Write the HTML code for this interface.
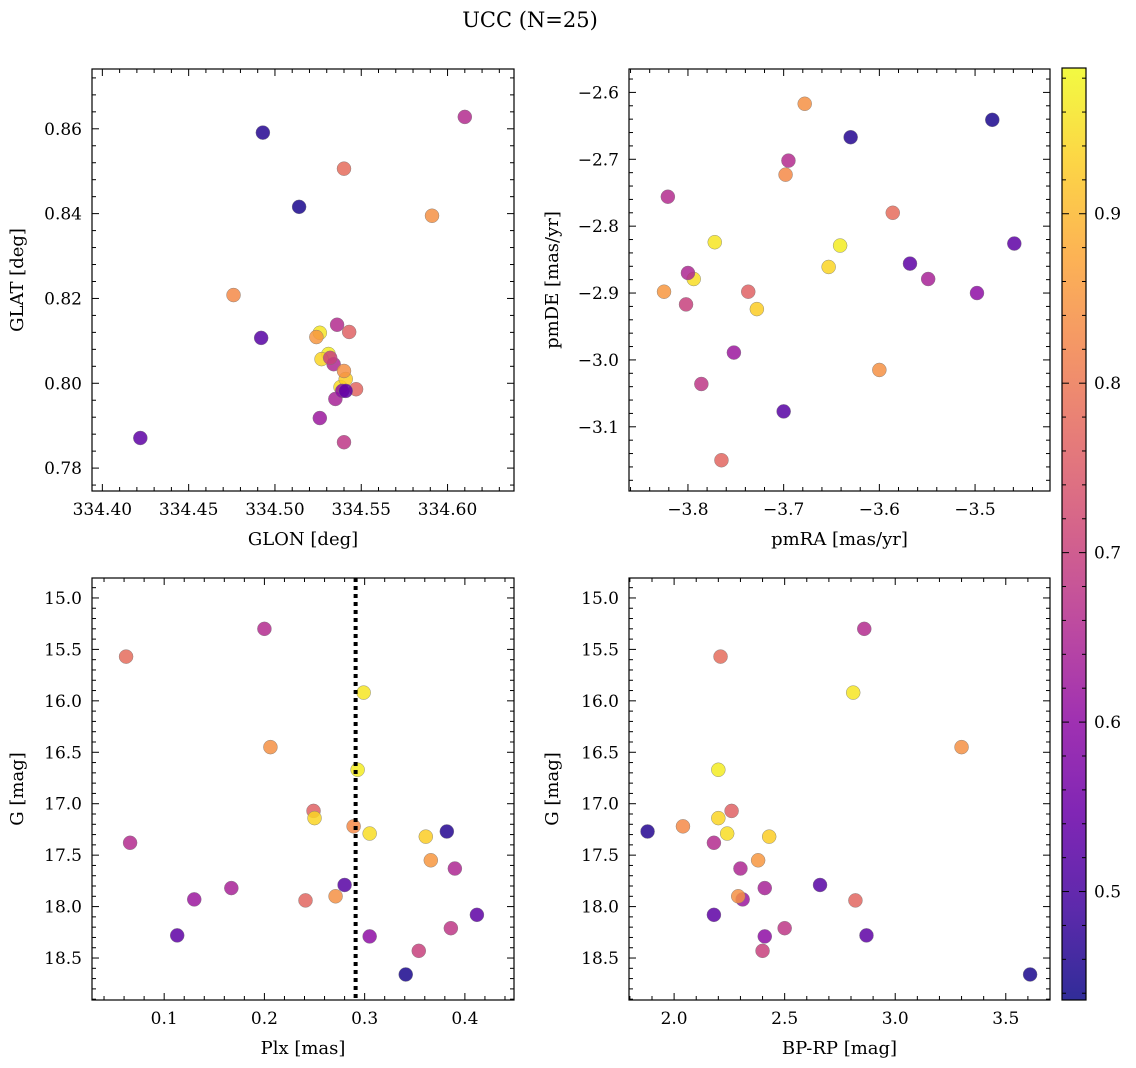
<!DOCTYPE html>
<html><head><meta charset="utf-8">
<style>
html,body{margin:0;padding:0;background:#fff;}
svg{display:block;font-family:"DejaVu Serif","Liberation Serif",serif;}
</style></head>
<body>
<svg id="fig" width="1136" height="1068" viewBox="0 0 1136 1068" xmlns="http://www.w3.org/2000/svg">
<rect width="1136" height="1068" fill="#fff"/>
<text x="530" y="27" font-size="21" text-anchor="middle">UCC (N=25)</text>
</svg>
<script>
const probs=[0.78,0.66,0.96,0.84,0.97,0.76,0.94,0.83,0.95,0.93,0.46,0.66,0.85,0.65,0.64,0.52,0.62,0.77,0.84,0.53,0.60,0.53,0.68,0.70,0.45];
const glon=[334.540,334.610,334.526,334.591,334.531,334.543,334.527,334.476,334.538,334.541,334.493,334.536,334.524,334.534,334.535,334.492,334.526,334.547,334.540,334.422,334.539,334.541,334.540,334.532,334.514];
const glat=[0.8506,0.8628,0.8119,0.8395,0.8069,0.8121,0.8057,0.8208,0.7991,0.8010,0.8591,0.8138,0.8109,0.8045,0.7963,0.8107,0.7918,0.7986,0.8029,0.7871,0.7982,0.7982,0.7861,0.8060,0.8416];
const pmra=[-3.586,-3.695,-3.772,-3.678,-3.641,-3.737,-3.653,-3.698,-3.794,-3.728,-3.630,-3.821,-3.825,-3.800,-3.549,-3.700,-3.752,-3.765,-3.600,-3.459,-3.498,-3.568,-3.786,-3.802,-3.482];
const pmde=[-2.780,-2.702,-2.824,-2.617,-2.829,-2.898,-2.861,-2.723,-2.879,-2.924,-2.667,-2.756,-2.898,-2.870,-2.879,-3.077,-2.989,-3.150,-3.015,-2.826,-2.900,-2.856,-3.036,-2.917,-2.641];
const plx=[0.062,0.200,0.299,0.206,0.293,0.249,0.250,0.289,0.305,0.361,0.382,0.066,0.366,0.390,0.167,0.280,0.130,0.241,0.271,0.113,0.305,0.412,0.386,0.354,0.341];
const gmag=[15.57,15.30,15.92,16.45,16.67,17.07,17.14,17.22,17.29,17.32,17.27,17.38,17.55,17.63,17.82,17.79,17.93,17.94,17.90,18.28,18.29,18.08,18.21,18.43,18.66];
const bprp=[2.21,2.86,2.81,3.30,2.20,2.26,2.20,2.04,2.24,2.43,1.88,2.18,2.38,2.30,2.41,2.66,2.31,2.82,2.29,2.87,2.41,2.18,2.50,2.40,3.61];
const plxLine=0.291;
const cbTicks=[0.5,0.6,0.7,0.8,0.9];

const NS="http://www.w3.org/2000/svg";
const svg=document.getElementById('fig');
const CMIN=0.436,CMAX=0.986;
const TF=17, LF=18;
const stops=[[13,8,135],[65,4,157],[106,0,168],[143,13,164],[177,42,144],[204,71,120],[225,100,98],[242,132,75],[252,166,54],[252,206,37],[240,249,33]];
function plasma(t){t=Math.max(0,Math.min(1,t));const f=t*10,i=Math.min(9,Math.floor(f)),r=f-i;const a=stops[i],b=stops[i+1];
 return 'rgb('+a.map((v,k)=>Math.round(v+(b[k]-v)*r)).join(',')+')';}
function colorOf(p){return plasma((p-CMIN)/(CMAX-CMIN));}
function el(tag,attrs,parent){const e=document.createElementNS(NS,tag);for(const k in attrs)e.setAttribute(k,attrs[k]);(parent||svg).appendChild(e);return e;}
function fmt(v,d){const s=Math.abs(v).toFixed(d);return (v<-1e-12?'\u2212':'')+s;}

function panel(o){
 const g=el('g',{});
 
 
 const sx=v=>o.x0+(v-o.xmin)/(o.xmax-o.xmin)*(o.x1-o.x0);
 const sy=v=>o.yinv? o.y0+(v-o.ymin)/(o.ymax-o.ymin)*(o.y1-o.y0) : o.y1-(v-o.ymin)/(o.ymax-o.ymin)*(o.y1-o.y0);
 const pts=el('g',{},g);
 
 
 if(o.vline!==undefined){
  const l=el('line',{x1:sx(o.vline),x2:sx(o.vline),y1:o.y0,y2:o.y1,stroke:'#000','stroke-width':4,'stroke-dasharray':'4,4'},g);
  
  
 }
 for(let i=0;i<o.xs.length;i++){
  const c=el('circle',{cx:sx(o.xs[i]),cy:sy(o.ys[i]),r:7,fill:colorOf(probs[i]),'fill-opacity':0.85,stroke:'#777','stroke-width':0.4},pts);
  
  
 }
 const fr=el('rect',{x:o.x0,y:o.y0,width:o.x1-o.x0,height:o.y1-o.y0,fill:'none',stroke:'#000','stroke-width':1.2},g);
 
 
 const xmaj=o.xmaj,xmin=o.xminor;
 for(let k=Math.ceil(o.xmin/xmin-1e-6);k*xmin<=o.xmax+1e-9;k++){
  const v=k*xmin,px=sx(v);const isMaj=Math.abs(v/xmaj-Math.round(v/xmaj))<1e-6;const L=isMaj?7:4;
  el('line',{x1:px,x2:px,y1:o.y1,y2:o.y1-L,stroke:'#000','stroke-width':1},g);
  el('line',{x1:px,x2:px,y1:o.y0,y2:o.y0+L,stroke:'#000','stroke-width':1},g);
  if(isMaj){const t=el('text',{x:px,y:o.y1+24,'font-size':TF,'text-anchor':'middle'},g);t.textContent=fmt(v,o.xd);
   
   }
 }
 const ymaj=o.ymaj,ymin=o.yminor;
 const lo=Math.min(o.ymin,o.ymax),hi=Math.max(o.ymin,o.ymax);
 for(let k=Math.ceil(lo/ymin-1e-6);k*ymin<=hi+1e-9;k++){
  const v=k*ymin,py=sy(v);const isMaj=Math.abs(v/ymaj-Math.round(v/ymaj))<1e-6;const L=isMaj?7:4;
  el('line',{x1:o.x0,x2:o.x0+L,y1:py,y2:py,stroke:'#000','stroke-width':1},g);
  el('line',{x1:o.x1,x2:o.x1-L,y1:py,y2:py,stroke:'#000','stroke-width':1},g);
  if(isMaj){const t=el('text',{x:o.x0-10,y:py+6,'font-size':TF,'text-anchor':'end'},g);t.textContent=fmt(v,o.yd);
   
   }
 }
 const xl=el('text',{x:(o.x0+o.x1)/2,y:o.y1+54,'font-size':LF,'text-anchor':'middle'},g);xl.textContent=o.xlabel;
 
 
 const yx=o.ylx,yy=(o.y0+o.y1)/2;
 const yl=el('text',{x:yx,y:yy,'font-size':LF,'text-anchor':'middle',transform:'rotate(-90 '+yx+' '+yy+')'},g);yl.textContent=o.ylabel;
 
 
}

panel({name:'glon-glat-panel',x0:92,x1:514,y0:69,y1:491,xmin:334.394,xmax:334.6385,ymin:0.7746,ymax:0.8741,xmaj:0.05,xminor:0.01,ymaj:0.02,yminor:0.004,xd:2,yd:2,xs:glon,ys:glat,xlabel:'GLON [deg]',ylabel:'GLAT [deg]',ylx:23});
panel({name:'pm-panel',x0:629,x1:1050,y0:69,y1:491,xmin:-3.8616,xmax:-3.4217,ymin:-3.196,ymax:-2.565,xmaj:0.1,xminor:0.02,ymaj:0.1,yminor:0.02,xd:1,yd:1,xs:pmra,ys:pmde,xlabel:'pmRA [mas/yr]',ylabel:'pmDE [mas/yr]',ylx:558});
panel({name:'plx-g-panel',x0:92,x1:514,y0:578,y1:1000,xmin:0.028,xmax:0.449,ymin:14.806,ymax:18.908,yinv:true,xmaj:0.1,xminor:0.02,ymaj:0.5,yminor:0.1,xd:1,yd:1,xs:plx,ys:gmag,xlabel:'Plx [mas]',ylabel:'G [mag]',ylx:23,vline:plxLine});
panel({name:'cmd-panel',x0:629,x1:1050,y0:578,y1:1000,xmin:1.796,xmax:3.70,ymin:14.806,ymax:18.908,yinv:true,xmaj:0.5,xminor:0.1,ymaj:0.5,yminor:0.1,xd:1,yd:1,xs:bprp,ys:gmag,xlabel:'BP-RP [mag]',ylabel:'G [mag]',ylx:558});

const cb=el('g',{});


const CX0=1062,CX1=1086,CY0=68,CY1=1000;
const defs=el('defs',{},cb);
const lg=el('linearGradient',{id:'cbg',x1:0,y1:1,x2:0,y2:0},defs);
for(let i=0;i<=20;i++){el('stop',{offset:(i/20),'stop-color':plasma(i/20)},lg);}
el('rect',{x:CX0,y:CY0,width:CX1-CX0,height:CY1-CY0,fill:'url(#cbg)','fill-opacity':0.85},cb);
el('rect',{x:CX0,y:CY0,width:CX1-CX0,height:CY1-CY0,fill:'none',stroke:'#000','stroke-width':1.2},cb);
const cy=v=>CY1-(v-CMIN)/(CMAX-CMIN)*(CY1-CY0);
for(let k=Math.ceil(CMIN/0.02);k*0.02<=CMAX;k++){
 const v=k*0.02,py=cy(v);const isMaj=Math.abs(v*10-Math.round(v*10))<1e-6;const L=isMaj?7:4;
 el('line',{x1:CX1,x2:CX1-L,y1:py,y2:py,stroke:'#000','stroke-width':1},cb);
 el('line',{x1:CX0,x2:CX0+L,y1:py,y2:py,stroke:'#000','stroke-width':1},cb);
}
cbTicks.forEach(v=>{
 const t=el('text',{x:CX1+8,y:cy(v)+6,'font-size':TF},cb);t.textContent=v.toFixed(1);
 
 
});
</script>
</body></html>
